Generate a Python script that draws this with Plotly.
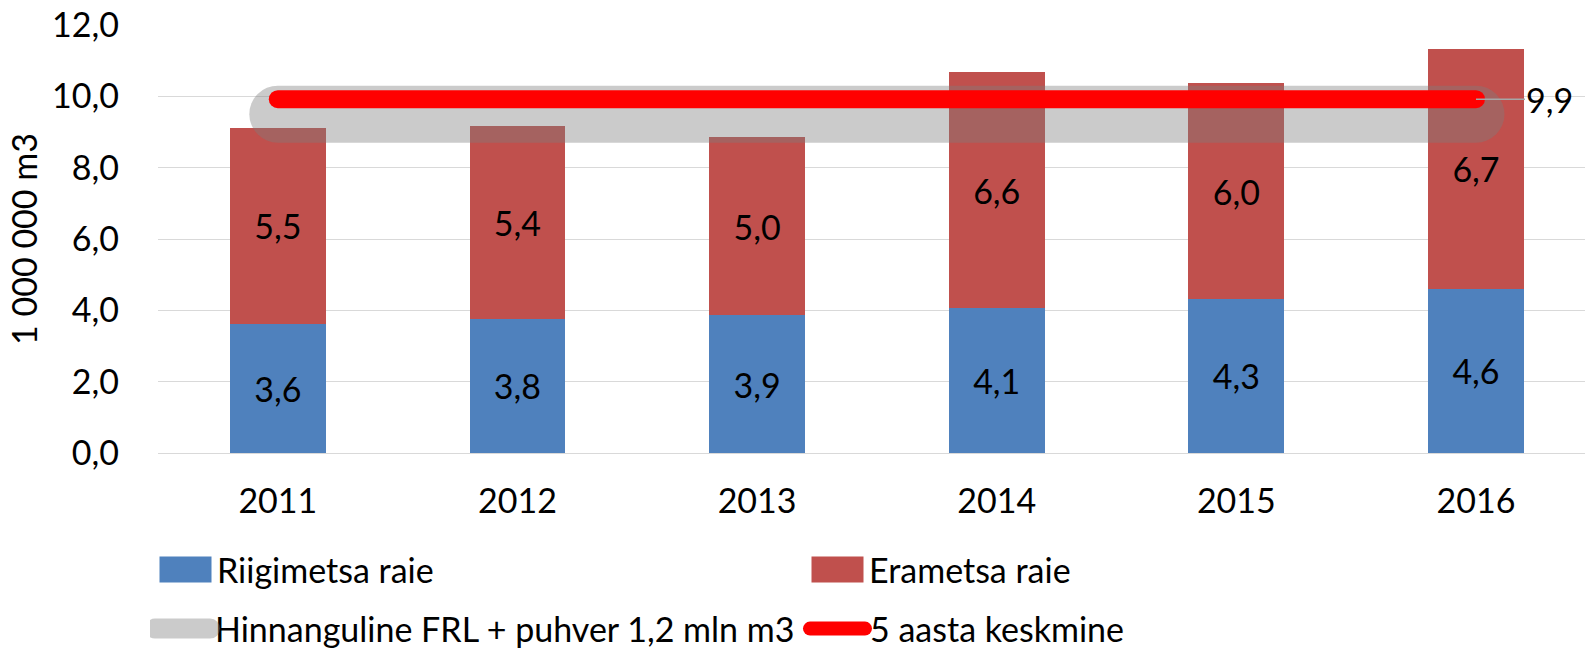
import plotly.graph_objects as go

# Raie mahud, 1 000 000 m3
years = ["2011", "2012", "2013", "2014", "2015", "2016"]
riigimets = [3.62, 3.77, 3.86, 4.06, 4.33, 4.61]
eramets = [5.50, 5.40, 5.00, 6.61, 6.03, 6.72]
frl_puhver = [9.5, 9.5, 9.5, 9.5, 9.5, 9.5]
keskmine = [9.92, 9.92, 9.92, 9.92, 9.92, 9.92]
y_ticks = [0, 2, 4, 6, 8, 10, 12]

FONT = "Lato"
FS = 34
BLUE = "#4F81BD"
RED = "#C0504D"

fig = go.Figure()

fig.add_trace(go.Bar(
    x=years, y=riigimets, name="Riigimetsa raie",
    marker=dict(color=BLUE, line=dict(width=0)),
    texttemplate="%{y:.1f}", textposition="inside",
    insidetextanchor="middle", constraintext="none",
    textfont=dict(color="black", size=FS, family=FONT),
    legend="legend",
))
fig.add_trace(go.Bar(
    x=years, y=eramets, name="Erametsa raie",
    marker=dict(color=RED, line=dict(width=0)),
    texttemplate="%{y:.1f}", textposition="inside",
    insidetextanchor="middle", constraintext="none",
    textfont=dict(color="black", size=FS, family=FONT),
    legend="legend",
))
fig.add_trace(go.Scatter(
    x=years, y=frl_puhver, mode="lines",
    name="Hinnanguline FRL + puhver 1,2 mln m3",
    line=dict(color="rgba(124,124,124,0.4)", width=57),
    legend="legend2", hoverinfo="skip",
))
fig.add_trace(go.Scatter(
    x=years, y=keskmine, mode="lines", name="5 aasta keskmine",
    line=dict(color="#FF0000", width=18),
    legend="legend2",
))

# andmesilt viimasele punktile
fig.add_annotation(
    x=len(years) - 1, y=keskmine[-1], text="9,9",
    showarrow=True, arrowhead=0, arrowwidth=1.5, arrowcolor="#A6A6A6",
    ax=74, ay=0, font=dict(size=FS, family=FONT, color="black"),
)

fig.update_layout(
    barmode="stack",
    bargap=0.6,
    width=1586, height=649,
    margin=dict(l=158, r=1, t=25, b=196),
    paper_bgcolor="white", plot_bgcolor="white",
    separators=", ",
    font=dict(family=FONT, size=FS, color="black"),
    legend=dict(
        orientation="h", xref="container", yref="container",
        x=154 / 1586, y=1 - 570 / 649, xanchor="left", yanchor="middle",
        entrywidth=584, entrywidthmode="pixels", itemwidth=53,
        font=dict(size=FS, family=FONT), bgcolor="rgba(0,0,0,0)",
        traceorder="normal",
    ),
    legend2=dict(
        orientation="h", xref="container", yref="container",
        x=150 / 1586, y=1 - 629 / 649, xanchor="left", yanchor="middle",
        entrywidth=585, entrywidthmode="pixels", itemwidth=55,
        font=dict(size=FS, family=FONT), bgcolor="rgba(0,0,0,0)",
        traceorder="normal",
    ),
)

fig.update_xaxes(
    type="category", range=[-0.5, 5.455], showgrid=False, showline=False,
    ticks="outside", ticklen=18, tickcolor="rgba(0,0,0,0)",
    tickfont=dict(size=FS, family=FONT), automargin=False,
)
fig.update_yaxes(
    range=[0, 12], tickvals=y_ticks, tickformat=".1f",
    showgrid=True, gridcolor="#D9D9D9", gridwidth=1.3,
    zeroline=True, zerolinecolor="#D9D9D9", zerolinewidth=1.3,
    showline=False, ticklabelstandoff=38, automargin=False,
    tickfont=dict(size=FS, family=FONT),
    title=dict(text="1 000 000 m3", standoff=4, font=dict(size=FS, family=FONT)),
)

# ümarad joone otsad ja suuremad legendi sümbolid
post = """
document.body.style.margin = '0';
var gd = document.getElementById('{plot_id}');
gd.querySelectorAll('.scatterlayer .js-line').forEach(function(p){p.style.strokeLinecap='round';});
gd.querySelectorAll('g.legend .legendpoints path').forEach(function(p){p.setAttribute('d','M26,13H-26V-13H26Z');});
var ll = gd.querySelectorAll('.legendlines .js-line');
ll.forEach(function(p, i){
  p.style.strokeLinecap='round';
  p.style.strokeWidth = (i === 0) ? '20px' : '14px';
});
"""

fig.write_html("out.html", post_script=post, config={"displayModeBar": False})
